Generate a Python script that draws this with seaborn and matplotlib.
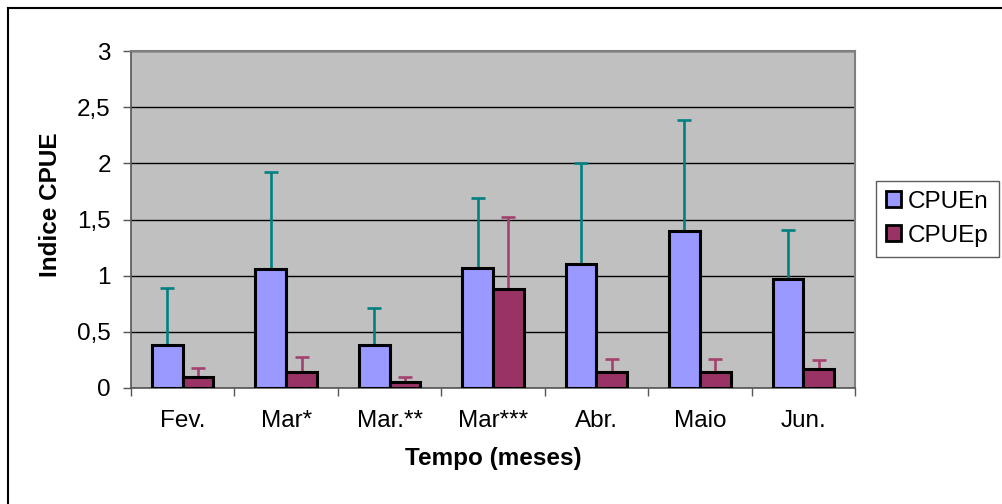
import numpy as np
import pandas as pd
import seaborn as sns
import matplotlib.pyplot as plt
from matplotlib.lines import Line2D

# dados
meses = ['Fev.', 'Mar*', 'Mar.**', 'Mar***', 'Abr.', 'Maio', 'Jun.']
cpue_n = [0.38, 1.06, 0.38, 1.07, 1.10, 1.40, 0.97]
cpue_n_err = [0.51, 0.86, 0.33, 0.62, 0.90, 0.99, 0.44]
cpue_p = [0.10, 0.14, 0.05, 0.88, 0.145, 0.14, 0.17]
cpue_p_err = [0.08, 0.14, 0.05, 0.64, 0.115, 0.12, 0.08]
y_ticks = [0, 0.5, 1, 1.5, 2, 2.5, 3]
y_labels = ['0', '0,5', '1', '1,5', '2', '2,5', '3']

data = pd.DataFrame({
    'Mes': meses * 2,
    'Indice': cpue_n + cpue_p,
    'Serie': ['CPUEn'] * len(meses) + ['CPUEp'] * len(meses),
})

plt.rcParams['font.family'] = ['Liberation Sans', 'DejaVu Sans']
plt.rcParams['font.size'] = 17.5

fig = plt.figure(figsize=(10.02, 5.04), dpi=100)
ax = fig.add_axes([131 / 1002, 1 - 388 / 504, 724 / 1002, 337 / 504])
ax.set_facecolor('#C0C0C0')

cores = {'CPUEn': '#9999FF', 'CPUEp': '#993366'}
sns.barplot(data=data, x='Mes', y='Indice', hue='Serie', order=meses,
            palette=cores, saturation=1, width=0.594, edgecolor='black',
            linewidth=2.2, ax=ax, zorder=3, legend=False)

# barras de erro (so para cima)
cores_err = ['#008080', '#A3426F']
for cont, err, cor in zip(ax.containers, [cpue_n_err, cpue_p_err], cores_err):
    xs = [p.get_x() + p.get_width() / 2 for p in cont.patches]
    hs = [p.get_height() for p in cont.patches]
    ax.errorbar(xs, hs, yerr=[np.zeros(len(err)), err], fmt='none',
                ecolor=cor, elinewidth=1.9, capsize=4.8, capthick=1.9, zorder=2)

ax.set_ylim(0, 3)
ax.set_xlim(-0.5, len(meses) - 0.5)
ax.set_yticks(y_ticks)
ax.set_yticklabels(y_labels)
ax.yaxis.grid(True, color='black', linewidth=1)
ax.set_axisbelow(True)

ax.set_xticks(np.arange(-0.5, len(meses), 1), minor=True)
ax.tick_params(axis='x', which='major', length=0, pad=16)
ax.tick_params(axis='x', which='minor', length=6, width=1, color='#555555')
ax.tick_params(axis='y', length=6, width=1, color='#555555', pad=8.5)

for s in ['top', 'right']:
    ax.spines[s].set_color('#808080')
    ax.spines[s].set_linewidth(1.5)
for s in ['left', 'bottom']:
    ax.spines[s].set_color('#555555')
    ax.spines[s].set_linewidth(1.2)

ax.set_xlabel('Tempo (meses)', fontweight='bold', labelpad=11)
ax.set_ylabel('Indice CPUE', fontweight='bold')
ax.yaxis.set_label_coords(-0.095, 0.543)

handles = [plt.Rectangle((0, 0), 1, 1, facecolor=cores[k], edgecolor='black', linewidth=2)
           for k in ['CPUEn', 'CPUEp']]
leg = fig.legend(handles, ['CPUEn', 'CPUEp'], loc='upper left',
                 bbox_to_anchor=(876 / 1002, 1 - 181 / 504), frameon=True,
                 fancybox=False, edgecolor='#333333', handlelength=0.62,
                 handleheight=0.62, handletextpad=0.3, labelspacing=0.5,
                 borderpad=0.4, borderaxespad=0)
leg.get_frame().set_linewidth(1)

# moldura externa
fig.add_artist(Line2D([8 / 1002, 1], [1 - 8 / 504] * 2, color='black', lw=1.5))
fig.add_artist(Line2D([8 / 1002] * 2, [0, 1 - 8 / 504], color='black', lw=1.5))

fig.savefig('out.png', dpi=100)
